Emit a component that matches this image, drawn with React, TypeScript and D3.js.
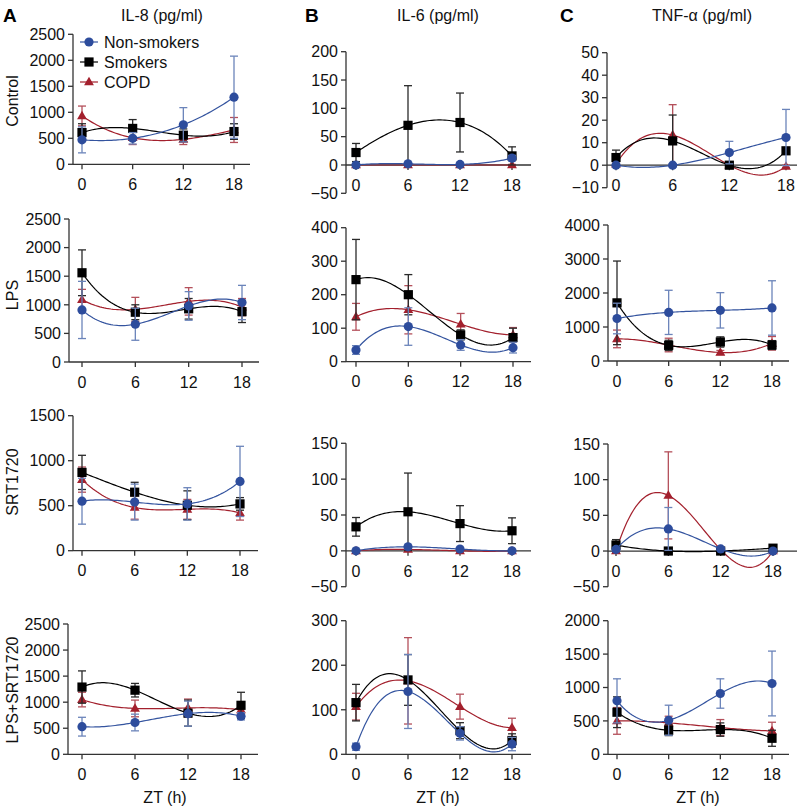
import React from "react";
import * as d3 from "d3";

// ---------- data ----------
const ztHours = [0, 6, 12, 18];
const groupNames = ["Non-smokers", "Smokers", "COPD"];
const rowLabels = ["Control", "LPS", "SRT1720", "LPS+SRT1720"];
const colTitles = ["IL-8 (pg/ml)", "IL-6 (pg/ml)", "TNF-α (pg/ml)"];
const colLetters = ["A", "B", "C"];

// means: [Non-smokers, Smokers, COPD]; errs same order
const il8ControlMean = [[470, 500, 760, 1290], [610, 690, 560, 630], [930, 510, 480, 660]];
const il8ControlErr = [[250, 110, 330, 790], [170, 170, 120, 150], [190, 130, 100, 240]];
const il8LpsMean = [[910, 660, 980, 1040], [1560, 870, 930, 880], [1090, 920, 1060, 960]];
const il8LpsErr = [[500, 280, 250, 300], [400, 130, 180, 190], [180, 210, 240, 150]];
const il8SrtMean = [[550, 540, 520, 770], [870, 650, 505, 520], [790, 480, 460, 420]];
const il8SrtErr = [[255, 200, 180, 390], [190, 110, 160, 70], [140, 130, 110, 80]];
const il8LpsSrtMean = [[530, 610, 780, 730], [1290, 1230, 790, 940], [1050, 880, 890, 850]];
const il8LpsSrtErr = [[180, 160, 240, 70], [310, 130, 250, 250], [140, 160, 170, 60]];

const il6ControlMean = [[0, 2, 1, 12], [22, 70, 75, 16], [0, 0, 0, 0]];
const il6ControlErr = [[2, 2, 2, 5], [16, 70, 52, 16], [1, 1, 1, 1]];
const il6LpsMean = [[35, 105, 50, 42], [245, 200, 80, 72], [134, 155, 112, 80]];
const il6LpsErr = [[13, 56, 16, 16], [120, 60, 15, 28], [40, 72, 32, 22]];
const il6SrtMean = [[0, 5.6, 2.5, 0], [33.5, 54.5, 38, 28], [0, 2, 0, 0]];
const il6SrtErr = [[1, 2, 1, 1], [13, 54, 25, 18], [1, 1, 1, 1]];
const il6LpsSrtMean = [[17, 141, 47, 23], [116, 167, 53, 31], [107, 165, 107, 60]];
const il6LpsSrtErr = [[8, 83, 15, 15], [41, 57, 18, 15], [30, 97, 28, 21]];

const tnfControlMean = [[0, 0, 5.6, 12.3], [3.4, 10.8, 0, 6.4], [0.5, 13.4, 0, -0.5]];
const tnfControlErr = [[0.5, 0.5, 5, 12.5], [3.3, 11.5, 0.5, 1], [1, 13.5, 0.5, 0.5]];
const tnfLpsMean = [[1250, 1430, 1490, 1560], [1710, 460, 560, 470], [650, 470, 250, 520]];
const tnfLpsErr = [[450, 650, 520, 800], [1230, 150, 150, 130], [260, 200, 60, 200]];
const tnfSrtMean = [[2.3, 31, 3, 0], [8.4, 0, 0, 4], [0, 78, 2, 0]];
const tnfSrtErr = [[2, 30, 2, 1], [7.6, 1, 1, 1], [2, 61, 2, 1]];
const tnfLpsSrtMean = [[800, 510, 910, 1060], [630, 360, 370, 240], [500, 470, 400, 350]];
const tnfLpsSrtErr = [[330, 225, 220, 485], [230, 80, 100, 120], [200, 100, 120, 130]];

// y-axis domains [min, max, step] per panel (col, row)
const il8Domains = [[0, 2500, 500], [0, 2500, 500], [0, 1500, 500], [0, 2500, 500]];
const il6Domains = [[-50, 200, 50], [0, 400, 100], [-50, 150, 50], [0, 300, 100]];
const tnfDomains = [[-10, 50, 10], [0, 4000, 1000], [-50, 150, 50], [0, 2000, 500]];

// ---------- layout ----------
// [axisX, x0px, x18px, xEndPx, yTopPx, yBotPx]
const layout = [
  [[73, 82, 234, 250, 34.3, 164.3], [69, 82, 242, 259, 219, 362], [73, 82, 240, 258, 415.7, 550.7], [68, 82, 241, 258, 624, 754.3]],
  [[346, 356, 512, 531, 51.7, 193.3], [346, 356, 513, 531, 227.7, 361.7], [346, 356, 512, 531, 443.3, 586.7], [346, 356, 512, 531, 620.7, 754.3]],
  [[607, 616, 786, 797, 52.7, 187.7], [608, 617, 772, 789, 225, 361], [608, 616, 773, 797, 444, 586.7], [608, 617, 772, 789, 620.7, 754.3]],
];

const means = [
  [il8ControlMean, il8LpsMean, il8SrtMean, il8LpsSrtMean],
  [il6ControlMean, il6LpsMean, il6SrtMean, il6LpsSrtMean],
  [tnfControlMean, tnfLpsMean, tnfSrtMean, tnfLpsSrtMean],
];
const errs = [
  [il8ControlErr, il8LpsErr, il8SrtErr, il8LpsSrtErr],
  [il6ControlErr, il6LpsErr, il6SrtErr, il6LpsSrtErr],
  [tnfControlErr, tnfLpsErr, tnfSrtErr, tnfLpsSrtErr],
];
const domains = [il8Domains, il6Domains, tnfDomains];

const lineColors = ["#34549f", "#000000", "#a3202d"];
const markColors = ["#2d4c9c", "#000000", "#a3202d"];
const errColors = ["#6b84ba", "#2a2a2a", "#b4505b"];
const drawOrder = [2, 1, 0];
const FONT = "'Liberation Sans', Arial, Helvetica, sans-serif";
const AXIS = "#333";

// cubic interpolating polynomial through the 4 time points
function cubicThrough(vals: number[]) {
  return (t: number) => {
    let s = 0;
    for (let i = 0; i < ztHours.length; i++) {
      let p = vals[i];
      for (let j = 0; j < ztHours.length; j++) {
        if (j !== i) p *= (t - ztHours[j]) / (ztHours[i] - ztHours[j]);
      }
      s += p;
    }
    return s;
  };
}
const sampleT = d3.range(0, 18.0001, 0.25);

function Marker({ g, x, y }: { g: number; x: number; y: number }) {
  const c = markColors[g];
  if (g === 0) return <circle cx={x} cy={y} r={4.6} fill={c} />;
  if (g === 1) return <rect x={x - 4.6} y={y - 4.6} width={9.2} height={9.2} fill={c} />;
  const tri = d3.symbol().type(d3.symbolTriangle).size(42)();
  return <path d={tri || ""} transform={`translate(${x},${y + 0.5})`} fill={c} />;
}

function Panel({ col, row }: { col: number; row: number }) {
  const [axisX, x0, x18, xEnd, yTop, yBot] = layout[col][row];
  const [yMin, yMax, step] = domains[col][row];
  const x = d3.scaleLinear().domain([0, 18]).range([x0, x18]);
  const y = d3.scaleLinear().domain([yMin, yMax]).range([yBot, yTop]);
  const ticks = d3.range(yMin, yMax + step / 2, step);
  const y0 = y(0);
  const m = means[col][row];
  const e = errs[col][row];
  const fmt = (v: number) => (v < 0 ? "\u2212" + Math.abs(v) : String(v));
  return (
    <g>
      {/* y axis */}
      <line x1={axisX} x2={axisX} y1={y(yMin)} y2={y(yMax)} stroke={AXIS} strokeWidth={1.3} />
      {ticks.map((t) => (
        <g key={t}>
          <line x1={axisX - 5} x2={axisX} y1={y(t)} y2={y(t)} stroke={AXIS} strokeWidth={1.3} />
          <text x={axisX - 8} y={y(t)} dy="0.36em" textAnchor="end" fontSize={16} fontFamily={FONT} fill="#111">
            {fmt(t)}
          </text>
        </g>
      ))}
      {/* x axis at zero */}
      <line x1={axisX} x2={xEnd} y1={y0} y2={y0} stroke={AXIS} strokeWidth={1.3} />
      {ztHours.map((h) => (
        <g key={h}>
          <line x1={x(h)} x2={x(h)} y1={y0} y2={y0 + 5} stroke={AXIS} strokeWidth={1.3} />
          <text x={x(h)} y={y0 + 20} dy="0.36em" textAnchor="middle" fontSize={16} fontFamily={FONT} fill="#111">
            {h}
          </text>
        </g>
      ))}
      {/* series */}
      {drawOrder.map((g) => {
        const f = cubicThrough(m[g]);
        const line = d3
          .line<number>()
          .x((t) => x(t))
          .y((t) => y(f(t)));
        return (
          <g key={g}>
            <path d={line(sampleT) || ""} fill="none" stroke={lineColors[g]} strokeWidth={1.2} />
            {m[g].map((v, i) => {
              const px = x(ztHours[i]);
              const hi = y(v + e[g][i]);
              const lo = y(v - e[g][i]);
              return (
                <g key={i} stroke={errColors[g]} strokeWidth={1.3}>
                  <line x1={px} x2={px} y1={hi} y2={lo} />
                  <line x1={px - 4} x2={px + 4} y1={hi} y2={hi} />
                  <line x1={px - 4} x2={px + 4} y1={lo} y2={lo} />
                </g>
              );
            })}
            {m[g].map((v, i) => (
              <Marker key={"m" + i} g={g} x={x(ztHours[i])} y={y(v)} />
            ))}
          </g>
        );
      })}
    </g>
  );
}

const rowLabelY = [101, 295, 482, 690];
const colTitleX = [162, 438, 702];
const colLetterX = [3, 305, 560];
const ztLabelX = [165, 438, 698];

export default function App() {
  return (
    <svg
      width={798}
      height={808}
      style={{ position: "absolute", left: 0, top: 0, background: "#fff" }}
      fontFamily={FONT}
    >
      <rect width={798} height={808} fill="#fff" />
      {colTitles.map((t, c) => (
        <g key={t}>
          <text x={colLetterX[c]} y={15} dy="0.36em" fontSize={19} fontWeight="bold" fill="#000">
            {colLetters[c]}
          </text>
          <text x={colTitleX[c]} y={15} dy="0.36em" textAnchor="middle" fontSize={16} fill="#111">
            {t}
          </text>
          <text x={ztLabelX[c]} y={797} dy="0.36em" textAnchor="middle" fontSize={16} fill="#111">
            ZT (h)
          </text>
        </g>
      ))}
      {rowLabels.map((r, i) => (
        <text
          key={r}
          transform={`translate(12,${rowLabelY[i]}) rotate(-90)`}
          dy="0.36em"
          textAnchor="middle"
          fontSize={16}
          fill="#111"
        >
          {r}
        </text>
      ))}
      {[0, 1, 2].map((c) => [0, 1, 2, 3].map((r) => <Panel key={c + "-" + r} col={c} row={r} />))}
      {/* legend */}
      {groupNames.map((n, g) => {
        const ly = 42 + g * 20;
        return (
          <g key={n}>
            <line x1={80} x2={98} y1={ly} y2={ly} stroke={lineColors[g]} strokeWidth={1.2} />
            <Marker g={g} x={89} y={ly} />
            <text x={104} y={ly} dy="0.36em" fontSize={16} fill="#111">
              {n}
            </text>
          </g>
        );
      })}
    </svg>
  );
}
